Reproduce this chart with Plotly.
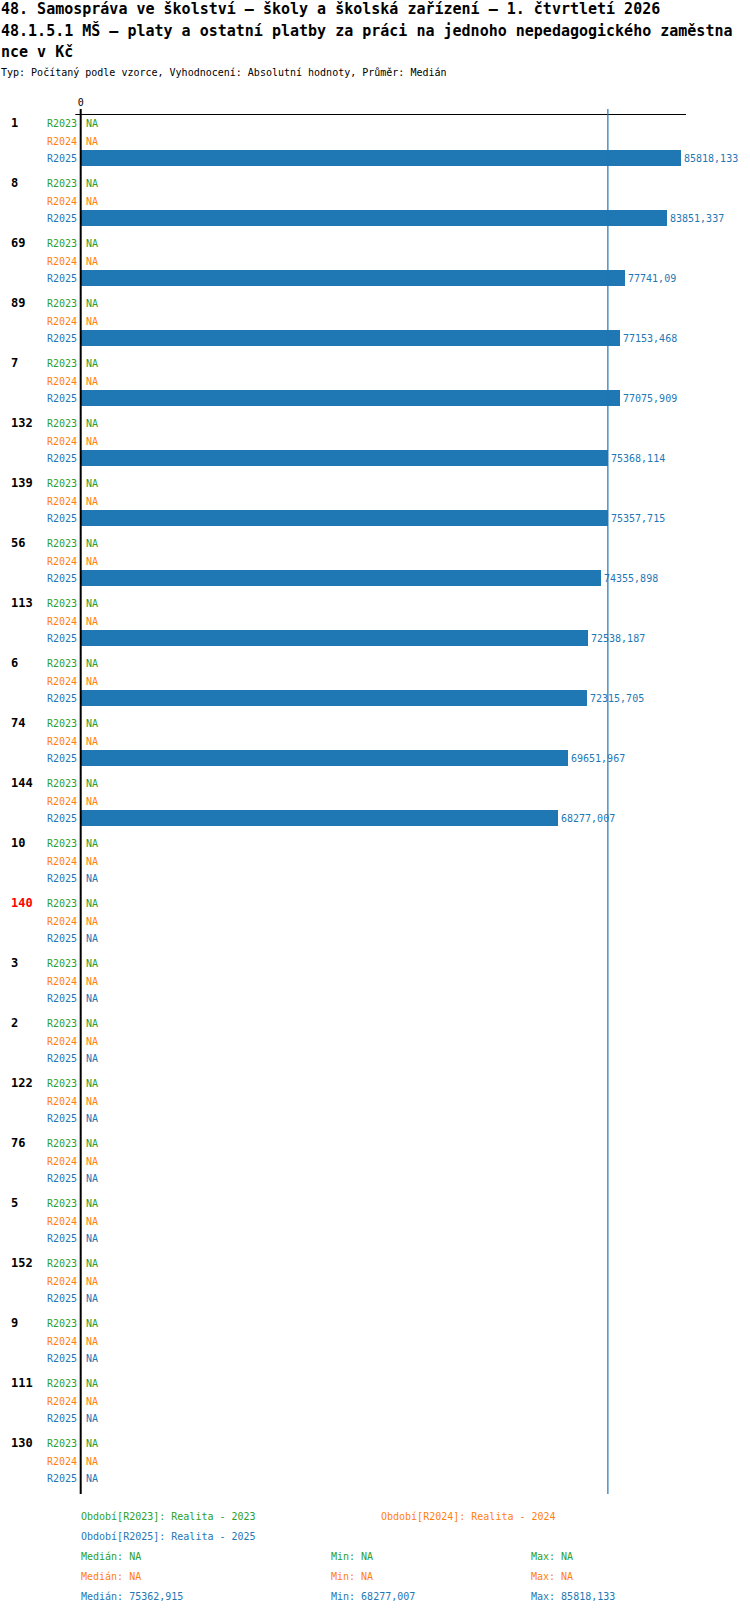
import plotly.graph_objects as go
import numpy as np
from decimal import Decimal, ROUND_HALF_UP

# ---------------- data ----------------
groups = ['1', '8', '69', '89', '7', '132', '139', '56', '113', '6', '74', '144',
          '10', '140', '3', '2', '122', '76', '5', '152', '9', '111', '130']
highlight_group = '140'
series_names = ['R2023', 'R2024', 'R2025']
r2023 = [None] * 23
r2024 = [None] * 23
r2025 = [85818.133, 83851.337, 77741.09, 77153.468, 77075.909, 75368.114,
         75357.715, 74355.898, 72538.187, 72315.705, 69651.967, 68277.007] + [None] * 11
series_values = [r2023, r2024, r2025]
series_colors = ['#2ca02c', '#ff7f0e', '#1f77b4']
period_labels = ['Období[R2023]: Realita - 2023', 'Období[R2024]: Realita - 2024',
                 'Období[R2025]: Realita - 2025']
title_lines = ['48. Samospráva ve školství – školy a školská zařízení – 1. čtvrtletí 2026',
               '48.1.5.1 MŠ – platy a ostatní platby za práci na jednoho nepedagogického zaměstna',
               'nce v Kč']
subtitle = 'Typ: Počítaný podle vzorce, Vyhodnocení: Absolutní hodnoty, Průměr: Medián'

# ---------------- layout constants (pixels) ----------------
W, H = 750, 1614
PLOT_TOP, PLOT_BOT = 109, 1494
ZERO_PX = 80.7
PX_PER_UNIT = (681.0 - ZERO_PX) / 85818.133
GROUP_PITCH = 60.0
FIRST_ROW = 14.3
ROW_OFFSETS = [0.0, 17.7, 34.7]
BAR_THICK = 16
FONT = 'DejaVu Sans Mono'
PLOT_H = PLOT_BOT - PLOT_TOP


def fmt(v):
    if v is None:
        return 'NA'
    d = Decimal(repr(float(v))).quantize(Decimal('0.001'), rounding=ROUND_HALF_UP)
    s = format(d, 'f').rstrip('0').rstrip('.')
    return s.replace('.', ',')


def row_y(g, r):
    return FIRST_ROW + g * GROUP_PITCH + ROW_OFFSETS[r]


def paper_y(px):  # pixel y (from page top) -> paper y
    return (PLOT_BOT - px) / PLOT_H


fig = go.Figure()
annotations = []

for r, (name, vals, col) in enumerate(zip(series_names, series_values, series_colors)):
    ys = [row_y(g, r) for g in range(len(groups))]
    fig.add_trace(go.Bar(
        orientation='h', x=vals, y=ys, width=BAR_THICK,
        marker=dict(color=col, line=dict(width=0)),
        text=[fmt(v) if v is not None else '' for v in vals],
        textposition='outside', cliponaxis=False, constraintext='none',
        textfont=dict(family=FONT, size=10, color=col),
        name=name, showlegend=False, hoverinfo='x+name'))
    for g, v in enumerate(vals):
        annotations.append(dict(x=0, y=ys[g], xref='x', yref='y', text=name,
                                xanchor='right', yanchor='middle', xshift=-3,
                                showarrow=False, borderpad=0,
                                font=dict(family=FONT, size=10, color=col)))
        if v is None:
            annotations.append(dict(x=0, y=ys[g], xref='x', yref='y', text='NA',
                                    xanchor='left', yanchor='middle', xshift=4,
                                    showarrow=False, borderpad=0,
                                    font=dict(family=FONT, size=10, color=col)))

for g, lab in enumerate(groups):
    annotations.append(dict(x=10 / W, y=row_y(g, 0), xref='paper', yref='y',
                            text='<b>%s</b>' % lab, xanchor='left', yanchor='middle',
                            showarrow=False, borderpad=0,
                            font=dict(family=FONT, size=12,
                                      color='#ff0000' if lab == highlight_group else '#000000')))

# titles
for i, line in enumerate(title_lines):
    annotations.append(dict(x=0, y=paper_y(9 + i * 21.5), xref='paper', yref='paper',
                            text='<b>%s</b>' % line, xanchor='left', yanchor='middle',
                            showarrow=False, borderpad=0,
                            font=dict(family=FONT, size=15, color='#000000')))
annotations.append(dict(x=0, y=paper_y(72.7), xref='paper', yref='paper', text=subtitle,
                        xanchor='left', yanchor='middle', showarrow=False, borderpad=0,
                        font=dict(family=FONT, size=10, color='#000000')))

# footer legend + stats
leg_pos = [(80, 1516), (380, 1516), (80, 1536)]
for (xp, yp), txt, col in zip(leg_pos, period_labels, series_colors):
    annotations.append(dict(x=xp / W, y=paper_y(yp), xref='paper', yref='paper', text=txt,
                            xanchor='left', yanchor='middle', showarrow=False, borderpad=0,
                            font=dict(family=FONT, size=10, color=col)))
for r, (vals, col) in enumerate(zip(series_values, series_colors)):
    valid = [v for v in vals if v is not None]
    med = fmt(float(np.median(valid))) if valid else 'NA'
    mn = fmt(min(valid)) if valid else 'NA'
    mx = fmt(max(valid)) if valid else 'NA'
    yp = 1556 + 20 * r
    for xp, txt in [(80, 'Medián: ' + med), (330, 'Min: ' + mn), (530, 'Max: ' + mx)]:
        annotations.append(dict(x=xp / W, y=paper_y(yp), xref='paper', yref='paper', text=txt,
                                xanchor='left', yanchor='middle', showarrow=False,
                                borderpad=0, font=dict(family=FONT, size=10, color=col)))

valid25 = [v for v in r2025 if v is not None]
median25 = float(np.median(valid25))

shapes = [
    dict(type='line', xref='paper', yref='paper', x0=75.3 / W, x1=686 / W,
         y0=paper_y(114.5), y1=paper_y(114.5),
         line=dict(color='#000000', width=1)),
    dict(type='line', xref='x', yref='y', x0=0, x1=0, y0=0, y1=PLOT_H,
         line=dict(color='#000000', width=2)),
    dict(type='line', xref='x', yref='y', x0=median25, x1=median25, y0=0, y1=PLOT_H,
         line=dict(color='#1f77b4', width=1.2)),
]

fig.update_layout(
    width=W, height=H,
    margin=dict(l=0, r=0, t=PLOT_TOP, b=H - PLOT_BOT, pad=0),
    paper_bgcolor='#ffffff', plot_bgcolor='#ffffff',
    barmode='overlay', bargap=0,
    xaxis=dict(range=[-ZERO_PX / PX_PER_UNIT, (W - ZERO_PX) / PX_PER_UNIT],
               side='top', tickvals=[0], ticktext=['0'], ticks='',
               tickfont=dict(family=FONT, size=10, color='#000000'),
               showgrid=False, zeroline=False, showline=False, fixedrange=True),
    yaxis=dict(range=[PLOT_H, 0], showticklabels=False, showgrid=False,
               zeroline=False, showline=False, ticks='', fixedrange=True),
    annotations=annotations, shapes=shapes,
    font=dict(family=FONT, size=10),
)

fig.write_html('out.html', config={'displayModeBar': False},
               post_script="document.body.style.margin='0';")
